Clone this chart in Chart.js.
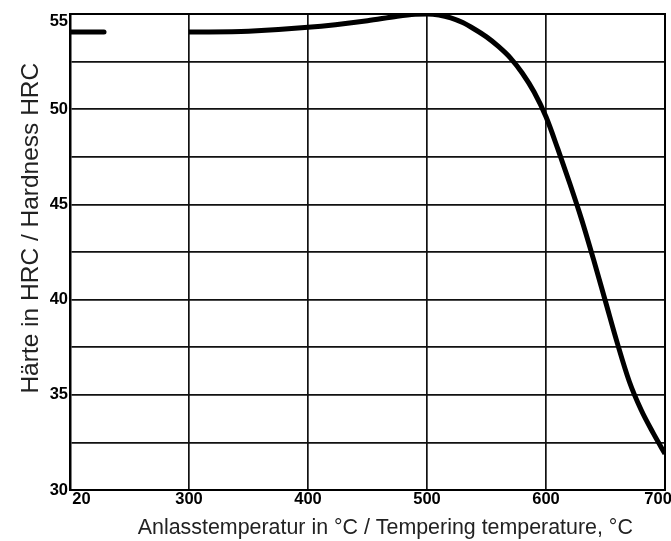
<!DOCTYPE html>
<html>
<head>
<meta charset="utf-8">
<script src="https://cdn.jsdelivr.net/npm/chart.js@4/dist/chart.umd.min.js"></script>
<style>
  html, body { margin: 0; padding: 0; background: #fff; }
  #wrap { width: 671px; height: 541px; }
</style>
</head>
<body>
<div id="wrap"><canvas id="chart"></canvas></div>
<script>
// short segment at low tempering temperature (left of the axis break)
const lowTemp = [20, 100];
const lowHrc = [54.05, 54.05];

// main curve
const mainTemp = [300, 350, 400, 450, 475, 490, 500, 510, 520, 530, 540, 550, 560, 570, 580, 590,
  600, 610, 620, 630, 640, 650, 660, 670, 680, 690, 700];
const mainHrc = [54.05, 54.1, 54.3, 54.65, 54.88, 54.98, 55.0, 54.95, 54.8, 54.55, 54.2, 53.8, 53.3, 52.7, 51.9, 50.9,
  49.6, 47.9, 46.1, 44.2, 42.1, 39.9, 37.7, 35.7, 34.2, 33.0, 31.9];

const xTicks = [20, 300, 400, 500, 600, 700];
const yTicks = [30, 35, 40, 45, 50, 55];

// the axis has a break: 20..300 °C is squeezed into one grid cell (200..300)
function axisPos(t) {
  return t >= 300 ? t : 200 + (t - 20) * 100 / 280;
}

function toPoints(temps, vals) {
  return temps.map((t, i) => ({ x: axisPos(t), y: vals[i] }));
}

const tickFont = { family: 'Liberation Sans', size: 16.5, weight: 'bold' };

const ctx = document.getElementById('chart').getContext('2d');
new Chart(ctx, {
  type: 'line',
  data: {
    datasets: [
      {
        data: toPoints(lowTemp, lowHrc),
        borderColor: '#000',
        borderWidth: 5,
        borderCapStyle: 'round',
        pointRadius: 0
      },
      {
        data: toPoints(mainTemp, mainHrc),
        borderColor: '#000',
        borderWidth: 5,
        cubicInterpolationMode: 'monotone',
        pointRadius: 0
      }
    ]
  },
  options: {
    responsive: true,
    maintainAspectRatio: false,
    animation: false,
    layout: { padding: { top: 14, right: 6, left: 0, bottom: 0 } },
    plugins: {
      legend: { display: false },
      tooltip: { enabled: false }
    },
    scales: {
      x: {
        type: 'linear',
        min: 200,
        max: 700,
        afterBuildTicks: function (scale) {
          scale.ticks = xTicks.map(t => ({ value: axisPos(t) }));
        },
        afterFit: function (scale) {
          scale.height = 51;
          scale.paddingLeft = 0;
          scale.paddingRight = 0;
        },
        ticks: {
          color: '#000',
          font: tickFont,
          padding: 0,
          maxRotation: 0,
          autoSkip: false,
          callback: function (v) {
            if (v === 200) return '     20';
            if (v === 700) return '700   ';
            return String(v);
          }
        },
        grid: { color: '#111', lineWidth: 1.7, drawTicks: false },
        border: { color: '#000', width: 2 },
        title: {
          display: true,
          // leading spaces nudge the title right, as in the original
          text: '      Anlasstemperatur in °C / Tempering temperature, °C',
          color: '#222',
          font: { family: 'Liberation Sans', size: 21.4, weight: 'normal' },
          padding: { top: 4, bottom: 0 }
        }
      },
      y: {
        min: 30,
        max: 55,
        afterBuildTicks: function (scale) {
          const vals = [];
          for (let v = 30; v <= 55; v += 2.5) vals.push({ value: v });
          scale.ticks = vals;
        },
        afterFit: function (scale) {
          scale.width = 70;
          scale.paddingTop = 0;
          scale.paddingBottom = 0;
        },
        ticks: {
          color: '#000',
          font: { family: 'Liberation Sans', size: 16.5, weight: 'bold', lineHeight: 0.85 },
          padding: 2,
          autoSkip: false,
          callback: function (v) {
            if (v === 55) return ['', '55']; // top label sits just below the frame
            return yTicks.includes(v) ? String(v) : '';
          }
        },
        grid: { color: '#111', lineWidth: 1.7, drawTicks: false },
        border: { color: '#000', width: 2.5 },
        title: {
          display: true,
          text: '       Härte in HRC / Hardness HRC',
          color: '#222',
          font: { family: 'Liberation Sans', size: 24.5, weight: 'normal' },
          padding: { top: 17, bottom: 0 }
        }
      }
    }
  },
  plugins: [{
    id: 'frame',
    afterDraw: function (chart) {
      const a = chart.chartArea;
      const c = chart.ctx;
      c.save();
      c.strokeStyle = '#000';
      c.lineWidth = 2;
      c.strokeRect(a.left, a.top, a.right - a.left, a.bottom - a.top);
      c.restore();
    }
  }]
});
</script>
</body>
</html>
